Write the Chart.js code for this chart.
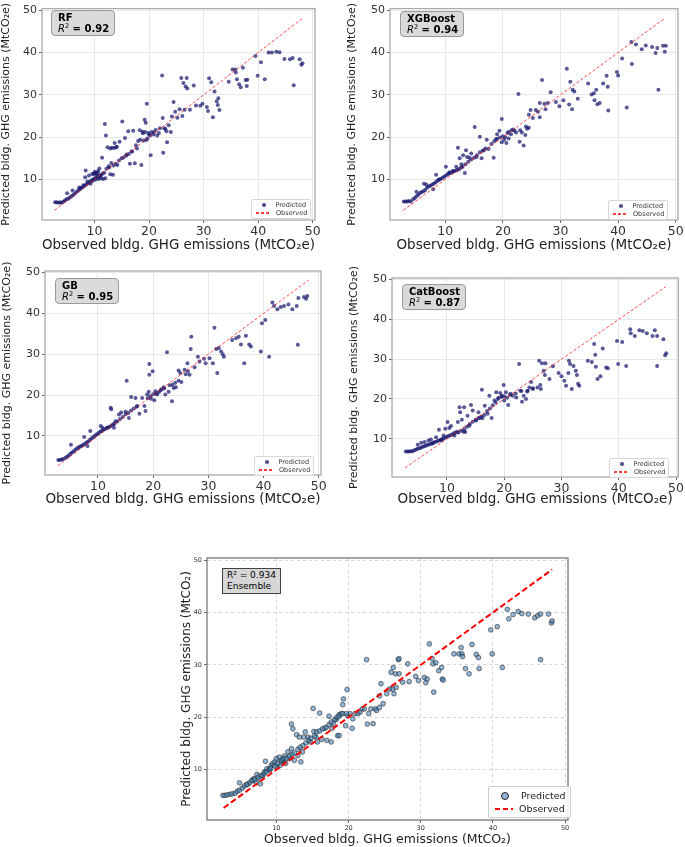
<!DOCTYPE html>
<html>
<head>
<meta charset="utf-8">
<script src="https://cdn.jsdelivr.net/npm/chart.js@4.4.1/dist/chart.umd.min.js"></script>
<style>
  body { margin: 0; background: #fff; width: 685px; height: 847px; position: relative; overflow: hidden; font-family: "DejaVu Sans", sans-serif; }
  canvas { position: absolute; }
  .tag { position: absolute; background: rgba(211,211,211,0.85); border: 1px solid #9a9a9a; border-radius: 4px; font-size: 10px; line-height: 11px; padding: 1px 5px 1px 6px; color: #000; white-space: nowrap; }
  .tag .it { font-style: italic; }
  .tag sup { font-size: 6.5px; line-height: 0; }
  .tag.ens { border-radius: 0; border-color: #444; background: #d6d6d6; font-size: 9px; line-height: 11px; padding: 1px 4px; }
  .leg { position: absolute; border: 1px solid #d8d8d8; border-radius: 2px; background: rgba(255,255,255,0.85); font-size: 6.5px; color: #333; padding: 1px 3px; }
  .leg div { height: 8px; display: flex; align-items: center; white-space: nowrap; }
  .leg .dot { width: 3.5px; height: 3.5px; border-radius: 50%; background: rgba(25,25,112,0.75); margin: 0 10px 0 7px; }
  .leg .dash { width: 14px; height: 1.5px; background: repeating-linear-gradient(90deg, rgba(255,40,40,0.9) 0 3px, transparent 3px 5px); margin: 0 6px 0 1px; }
  .leg.ens { border-color: #ccc; font-size: 9.5px; color: #222; padding: 2px 4px; }
  .leg.ens div { height: 13px; }
  .leg.ens .dot { width: 6px; height: 6px; background: rgba(70,130,180,0.6); border: 0.7px solid #222; margin: 0 12px 0 8px; }
  .leg.ens .dash { width: 18px; height: 2px; background: repeating-linear-gradient(90deg, red 0 5px, transparent 5px 8px); margin: 0 6px 0 2px; }
</style>
</head>
<body>
<canvas id="rf" width="340" height="254" style="left:0;top:0"></canvas>
<canvas id="xgb" width="345" height="254" style="left:340px;top:0"></canvas>
<canvas id="gb" width="340" height="253" style="left:0;top:255px"></canvas>
<canvas id="cat" width="345" height="253" style="left:340px;top:255px"></canvas>
<canvas id="ens" width="400" height="302" style="left:180px;top:545px"></canvas>

<div class="tag" style="left:51px;top:10px"><b>RF</b><br><span class="it">R</span><sup>2</sup><b> = 0.92</b></div>
<div class="tag" style="left:400px;top:11px"><b>XGBoost</b><br><span class="it">R</span><sup>2</sup><b> = 0.94</b></div>
<div class="tag" style="left:55px;top:278px"><b>GB</b><br><span class="it">R</span><sup>2</sup><b> = 0.95</b></div>
<div class="tag" style="left:402px;top:284px"><b>CatBoost</b><br><span class="it">R</span><sup>2</sup><b> = 0.87</b></div>
<div class="tag ens" style="left:222px;top:568px">R² = 0.934<br>Ensemble</div>

<div class="leg" style="left:251px;top:199px"><div><span class="dot"></span>Predicted</div><div><span class="dash"></span>Observed</div></div>
<div class="leg" style="left:608px;top:200px"><div><span class="dot"></span>Predicted</div><div><span class="dash"></span>Observed</div></div>
<div class="leg" style="left:254px;top:456px"><div><span class="dot"></span>Predicted</div><div><span class="dash"></span>Observed</div></div>
<div class="leg" style="left:609px;top:458px"><div><span class="dot"></span>Predicted</div><div><span class="dash"></span>Observed</div></div>
<div class="leg ens" style="left:488px;top:786px"><div><span class="dot"></span>Predicted</div><div><span class="dash"></span>Observed</div></div>

<script>
// observed vs predicted: [observed, predicted]
const rfPoints = [
  [2.8,4.6],[3.1,4.6],[3.4,4.5],[3.7,4.6],[4.0,4.5],[4.3,4.7],
  [4.6,5.0],[4.9,5.3],[5.2,5.4],[5.5,5.7],[5.8,6.0],[6.1,6.3],[6.4,6.6],[6.7,7.0],[7.0,7.3],[7.3,7.6],[7.6,8.0],[7.9,8.2],[8.2,8.5],[8.5,8.8],[8.8,9.1],[9.1,9.4],[9.4,9.7],[9.7,10.0],[10.0,10.2],[10.3,10.4],[10.6,10.5],[10.9,10.8],[11.2,11.0],[11.5,11.4],[11.8,11.6],
  [5.0,6.7],[6.0,7.4],[7.2,8.1],[8.4,12.1],[8.3,10.5],[9.0,10.9],[9.6,11.3],[10.0,11.5],[10.3,11.4],[10.6,11.6],[10.9,12.6],[11.4,15.1],[11.9,23.1],[12.1,20.4],[12.4,17.6],[12.7,12.8],[12.9,11.2],[13.2,17.5],[13.4,11.1],[13.7,18.6],[14.0,17.6],[14.2,13.4],[14.6,18.9],[15.1,23.7],[15.3,15.2],[15.6,19.8],[15.9,15.9],[16.2,21.4],[16.5,13.7],[16.8,16.6],[17.1,21.5],[17.4,13.8],[17.6,18.1],[18.0,19.1],[18.3,21.6],[18.6,13.4],[18.8,21.3],[19.0,19.2],[19.2,24.1],[19.4,23.4],[19.6,27.9],[19.7,19.7],[19.9,21.0],[20.2,20.4],[20.3,15.7],[20.5,21.2],[20.8,20.6],[21.2,21.7],[21.5,20.4],[22.0,22.1],[22.4,34.6],[22.5,24.5],[22.6,16.3],[23.0,21.9],[23.3,18.8],[23.6,22.8],[24.0,21.2],[24.2,24.9],[24.5,28.3],[24.8,26.0],[25.2,24.6],[25.6,26.6],[25.9,34.0],[26.1,25.0],[26.3,32.8],[26.5,26.5],[26.7,32.0],[26.9,34.0],[27.0,31.5],[27.5,26.5],[28.2,32.2],[28.6,27.5],[29.4,27.4],[29.8,27.9],[30.6,27.1],[30.8,26.2],[31.0,33.9],[31.4,33.0],[31.7,24.7],[32.0,30.8],[32.4,28.5],[32.6,27.6],[32.9,26.4],[32.7,29.2],[34.6,33.1],[35.3,36.0],[35.8,36.0],[35.9,35.3],[36.1,33.7],[36.5,32.5],[36.8,31.8],[37.2,36.4],[37.7,33.5],[38.0,33.6],[37.9,32.1],[39.5,39.2],[39.9,34.5],[40.5,37.7],[41.2,33.7],[41.9,40.0],[42.5,40.0],[43.3,40.2],[43.9,40.1],[44.8,38.5],[45.8,38.4],[46.3,38.7],[46.5,32.3],[47.6,38.4],[47.9,37.1],[48.1,37.5],
  [18.4,19.4],[18.9,20.9],[19.3,21.2],[17.8,17.3],[16.9,16.6],[16.3,16.0],[15.8,15.6],[15.0,15.0],[14.5,14.5],[13.9,13.7],[13.5,13.3],[12.6,13.1],[12.2,12.5],[13.1,13.9],[14.1,17.7],[13.6,17.4],[12.9,17.3],[19.5,19.3],[20.0,20.6],[21.8,21.0],[22.8,22.1],[23.2,21.4],[20.9,21.1],[9.9,11.3],[10.1,11.8],[10.4,11.2],[10.7,12.0],[11.2,10.3],[11.6,10.1],[12.0,10.3],[11.1,10.9],[8.7,9.5],[8.0,8.6],[7.5,7.9],[9.3,9.0],[9.6,9.6],[10.2,9.9],[10.8,10.1]
];

const xgbPoints = [
  [2.8,4.8],[3.1,4.8],[3.4,4.8],[3.7,4.9],[4.0,4.8],
  [4.4,5.3],[4.7,5.6],[5.0,6.0],[5.0,7.1],[5.3,6.4],[5.6,6.8],[5.9,7.0],[6.2,7.2],[6.5,7.5],[6.8,8.0],[7.1,8.3],[7.4,8.5],[7.7,8.8],[8.0,9.0],[8.3,9.3],[8.6,9.6],[8.9,9.9],[9.2,10.1],[9.5,10.4],[9.8,10.6],[10.1,10.9],[10.4,11.2],[10.7,11.4],[11.0,11.6],[11.3,11.8],[11.6,12.0],[11.9,12.1],[12.2,12.3],[12.5,12.5],[12.8,12.9],
  [6.3,9.0],[6.7,8.8],[7.9,7.7],[8.4,11.1],[8.9,10.0],[10.1,13.0],[10.7,11.7],[11.3,12.0],[11.9,13.0],[12.2,17.5],[12.5,15.0],[12.8,13.6],[13.1,15.7],[13.4,11.5],[13.6,16.9],[13.8,15.3],[14.2,15.1],[14.5,16.1],[15.1,22.4],[15.4,15.3],[16.0,20.1],[16.3,15.0],[16.7,16.9],[17.2,19.4],[17.5,17.2],[18.0,18.4],[18.4,15.1],[18.8,19.5],[19.0,20.7],[19.4,21.5],[19.8,24.3],[19.8,18.8],[20.2,19.4],[20.6,18.6],[21.0,19.7],[21.4,20.7],[21.8,21.8],[22.3,21.1],[22.7,30.2],[22.9,18.9],[23.3,21.1],[23.6,18.0],[23.9,20.5],[24.2,22.0],[24.5,25.3],[24.8,26.4],[25.2,24.5],[25.7,26.4],[26.1,26.0],[26.4,28.1],[26.4,24.7],[26.8,33.5],[27.2,27.9],[27.4,26.6],[27.8,28.1],[28.3,30.6],[29.2,28.3],[29.8,27.3],[30.5,28.7],[31.1,36.2],[31.5,27.7],[31.7,33.1],[32.0,26.6],[32.1,31.2],[32.4,30.8],[33.0,29.1],[34.8,32.7],[35.4,30.1],[35.8,30.4],[35.9,28.7],[36.2,31.2],[36.4,27.8],[36.8,28.1],[37.4,32.7],[38.0,34.5],[38.2,31.9],[38.3,26.3],[39.8,35.4],[40.0,34.6],[40.7,38.6],[41.5,27.0],[42.3,42.5],[42.4,37.3],[43.1,41.9],[44.1,40.8],[44.8,41.7],[45.9,41.3],[46.5,39.9],[46.8,41.1],[47.0,31.2],[47.8,41.6],[48.1,40.2],[48.3,41.6],
  [18.5,19.0],[19.0,19.6],[19.5,19.9],[20.0,20.2],[20.4,20.0],[17.0,17.3],[16.5,16.8],[16.0,16.4],[15.5,15.7],[15.0,15.1],[14.5,14.7],[14.0,14.2],[13.5,13.6],[13.0,13.0],[21.0,21.2],[21.5,21.6],[22.0,21.5],[23.0,21.6],[24.0,22.5],[24.5,22.2],[20.8,21.0]
];

const gbPoints = [
  [2.8,4.1],[3.1,4.1],[3.4,4.2],[3.7,4.3],
  [4.1,4.6],[4.4,4.9],[4.7,5.2],[5.0,5.6],[5.3,5.9],[5.6,6.2],[5.9,6.6],[6.2,6.9],[6.5,7.2],[6.8,7.4],[7.1,7.6],[7.4,7.8],[7.7,8.1],[8.0,8.4],[8.3,8.7],[8.6,9.1],[8.9,9.4],[9.2,9.8],[9.5,10.1],[9.8,10.4],[10.1,10.7],[10.4,11.0],[10.7,11.2],[11.0,11.5],[11.3,11.7],[11.6,11.9],[11.9,12.1],[12.2,12.3],[12.5,12.6],[12.8,12.8],
  [5.1,7.8],[7.5,9.7],[8.1,7.5],[8.6,11.2],[10.5,12.4],[10.8,12.0],[11.7,12.0],[12.3,16.9],[12.4,16.5],[12.9,12.0],[13.2,13.6],[13.8,15.2],[14.2,15.7],[15.0,15.9],[15.2,23.5],[15.6,14.4],[16.0,19.5],[16.8,19.3],[17.1,17.3],[17.5,15.4],[18.0,19.3],[18.4,17.3],[18.6,16.1],[18.9,20.1],[19.2,20.8],[19.3,27.6],[19.3,25.0],[19.6,19.1],[19.9,25.8],[20.2,18.7],[20.4,20.9],[20.7,20.1],[21.3,21.1],[21.9,21.9],[22.2,20.1],[22.5,30.5],[22.8,20.8],[23.4,18.5],[23.5,22.5],[23.7,21.7],[24.1,21.9],[24.6,23.5],[24.6,26.0],[24.9,25.4],[25.1,23.2],[25.7,26.2],[25.9,25.1],[26.2,27.8],[26.3,25.8],[26.6,25.0],[26.8,31.3],[26.9,34.3],[27.5,26.8],[28.1,29.4],[28.4,28.2],[29.2,28.9],[29.5,27.8],[30.2,29.0],[30.8,27.8],[31.1,36.5],[31.4,31.3],[31.6,25.4],[31.9,31.5],[32.3,30.7],[32.6,30.0],[32.8,29.4],[34.3,33.5],[35.0,33.9],[35.5,34.3],[35.9,32.4],[36.5,27.8],[36.8,34.5],[37.4,32.4],[37.7,31.9],[39.5,30.7],[39.7,37.6],[40.3,38.4],[41.0,29.4],[41.6,42.7],[41.9,41.8],[42.5,41.0],[43.1,41.6],[43.7,41.8],[44.5,42.2],[45.2,41.0],[46.0,41.8],[46.2,32.3],[46.3,43.8],[47.3,44.0],[47.7,43.6],[47.9,44.3],
  [19.0,19.2],[19.5,19.7],[20.0,20.2],[20.5,20.4],[21.0,20.7],[21.5,21.4],[17.0,17.1],[16.5,16.7],[16.0,16.2],[15.5,15.6],[15.0,15.3],[14.5,14.6],[14.0,14.1],[13.5,13.5],[13.0,13.0],[24.0,23.0],[23.0,22.4],[22.0,21.6]
];

const catPoints = [
  [2.8,6.8],[3.1,6.8],[3.4,6.8],[3.7,6.9],[4.0,6.9],
  [4.3,7.1],[4.6,7.3],[4.9,7.5],[5.2,7.6],[5.5,7.8],[5.8,8.0],[6.1,8.2],[6.4,8.3],[6.7,8.5],[7.0,8.6],[7.3,8.8],[7.6,9.0],[7.9,9.2],[8.2,9.3],[8.5,9.5],[8.8,9.7],[9.1,9.9],[9.4,10.1],[9.7,10.3],[10.0,10.5],[10.3,10.7],[10.6,10.9],[10.9,11.1],[11.2,11.4],[11.5,11.6],[11.8,11.8],
  [4.9,8.5],[5.5,9.0],[6.1,9.2],[6.8,9.6],[7.2,9.8],[7.5,8.8],[8.1,10.4],[8.6,12.3],[9.0,9.6],[9.4,10.8],[9.7,12.5],[10.1,14.2],[10.4,12.7],[10.7,13.2],[11.3,10.8],[11.9,14.2],[12.2,17.9],[12.3,16.7],[12.6,14.8],[12.9,11.8],[13.0,17.9],[13.2,11.7],[13.6,15.8],[13.9,13.3],[14.2,18.5],[14.5,17.1],[15.1,14.6],[15.5,16.7],[15.8,15.2],[16.1,22.3],[16.2,15.2],[16.6,18.3],[17.1,16.3],[17.4,20.8],[17.8,15.2],[18.3,19.6],[18.6,21.7],[18.9,20.0],[19.3,21.5],[19.6,20.8],[19.9,23.5],[20.0,19.6],[20.3,21.7],[20.7,18.5],[21.1,21.3],[21.5,20.8],[22.1,20.4],[22.6,28.8],[22.8,22.1],[23.1,19.3],[23.4,20.8],[23.8,20.0],[24.1,22.1],[24.4,22.9],[24.7,24.3],[25.0,22.7],[25.8,22.9],[26.1,29.6],[26.3,23.5],[26.4,22.5],[26.6,29.0],[26.9,27.1],[27.1,26.0],[27.2,29.0],[27.9,25.0],[28.5,28.2],[29.5,26.5],[30.0,25.7],[30.5,24.6],[30.8,23.3],[31.2,26.5],[31.3,29.6],[31.5,28.8],[31.8,22.5],[32.1,28.3],[32.5,27.1],[32.7,26.0],[32.9,23.8],[33.1,23.3],[34.6,29.6],[35.3,29.3],[35.7,33.8],[35.9,31.1],[36.0,28.1],[36.3,25.0],[36.8,25.7],[37.2,32.7],[37.8,27.9],[38.1,27.7],[39.7,34.6],[39.9,28.8],[40.6,34.3],[41.3,28.3],[42.0,37.5],[42.1,36.5],[42.8,35.8],[43.6,37.3],[44.2,37.1],[44.9,36.5],[45.9,35.8],[46.3,37.3],[46.7,35.8],[46.7,28.3],[47.8,35.0],[48.1,31.0],[48.3,31.5],
  [18.0,18.4],[18.5,19.2],[19.0,20.3],[19.5,20.5],[20.0,20.7],[20.5,20.3],[17.5,17.6],[17.0,17.0],[16.5,16.0],[16.0,15.6],[15.5,15.2],[15.0,14.8],[14.5,14.3],[14.0,13.7],[13.5,13.0],[13.0,12.4],[12.5,12.0],[12.0,11.6],[21.0,21.0],[22.0,21.4],[23.0,22.0],[24.0,21.9],[25.0,22.5]
];

const ensPoints = [
  [2.6,5.1],[2.9,5.1],[3.2,5.2],[3.6,5.3],[3.9,5.4],[4.3,5.5],[4.6,5.9],[4.9,7.5],[4.9,6.1],[5.3,6.5],[5.6,6.9],[6.0,7.2],[6.3,7.5],[6.7,8.0],[6.9,8.3],[7.2,7.5],[7.3,9.1],[7.7,8.3],[7.8,7.3],[8.1,8.9],[8.4,9.6],[8.5,11.6],[8.7,10.2],[9.1,9.9],[9.3,10.8],[9.5,11.2],[9.8,11.5],[10.0,12.1],[10.1,10.5],[10.4,12.4],[10.5,10.8],[10.7,11.5],[10.9,11.8],[11.1,12.6],[11.3,11.2],[11.6,13.4],[11.8,12.1],[12.1,14.0],[12.1,18.7],[12.3,17.8],[12.5,11.8],[12.8,16.7],[13.0,12.7],[13.2,16.2],[13.4,11.5],[13.6,13.4],[13.8,16.2],[14.0,17.2],[14.4,16.2],[14.7,15.3],[15.1,21.7],[15.2,17.3],[15.5,16.2],[15.7,15.3],[16.0,20.8],[16.3,15.8],[16.7,17.9],[17.0,15.6],[17.3,20.2],[17.6,15.3],[17.7,17.9],[17.9,18.8],[18.3,19.6],[18.5,16.5],[18.7,20.5],[18.7,16.5],[19.0,20.7],[19.2,22.4],[19.3,23.5],[19.6,18.4],[19.8,25.3],[19.9,20.3],[20.2,20.7],[20.5,17.9],[20.6,19.7],[20.9,20.7],[21.3,20.7],[21.6,21.0],[21.9,21.6],[22.2,21.6],[22.5,31.0],[22.6,18.7],[22.8,20.7],[23.1,21.6],[23.4,18.8],[23.7,21.6],[23.9,21.3],[24.3,21.9],[24.3,24.1],[24.5,26.4],[24.8,22.6],[25.3,24.5],[25.7,25.4],[25.9,28.6],[26.1,25.4],[26.2,29.5],[26.3,24.5],[26.6,25.7],[26.5,28.3],[26.9,31.0],[27.0,31.2],[27.0,28.3],[27.5,26.7],[28.2,30.2],[28.4,26.8],[29.3,27.8],[29.7,27.0],[30.5,27.6],[30.7,26.6],[30.9,27.3],[31.2,34.0],[31.6,31.2],[31.7,30.2],[31.8,24.8],[32.1,30.4],[32.5,28.9],[32.9,29.5],[33.0,27.3],[33.1,27.1],[34.6,32.1],[35.3,32.1],[35.6,33.3],[35.7,32.1],[35.8,31.6],[36.2,29.3],[36.7,28.3],[37.1,33.9],[37.7,32.0],[38.0,31.4],[38.1,29.3],[39.7,36.7],[39.9,32.1],[40.6,37.3],[41.3,29.5],[42.0,40.6],[42.2,38.8],[42.8,39.6],[43.5,40.2],[44.0,39.8],[44.9,39.7],[45.8,39.0],[46.2,39.4],[46.6,39.7],[46.6,31.0],[47.7,39.7],[48.1,38.0],[48.2,38.4],
  [5.9,7.2],[6.6,7.9],[7.0,8.1],[7.5,8.6],[7.9,8.9],[8.3,9.2],[8.6,9.6],[9.0,10.1],[9.2,10.3],[9.8,10.7],[10.2,11.2],[10.7,11.8],[11.0,12.1],[11.4,12.2],[11.8,12.6],[12.2,12.9],[12.5,13.2],[13.0,13.9],[13.3,14.3],[13.7,14.6],[14.1,15.1],[14.5,15.6],[14.8,16.0],[15.3,16.4],[15.6,17.2],[16.0,17.4],[16.4,17.8],[16.9,18.1],[17.3,18.6],[17.6,19.1],[18.1,19.6],[18.4,20.0],[18.7,20.2],[19.2,20.7],[19.7,20.7]
];

const tickValues = [10, 20, 30, 40, 50];
const axisRange = [0.4, 50.4];
const observedRange = [2.7, 48.2];
const xTitleTop = "Observed bldg. GHG emissions (MtCO₂e)";
const yTitleTop = "Predicted bldg. GHG emissions (MtCO₂e)";
const xTitleEns = "Observed bldg. GHG emissions (MtCO₂)";
const yTitleEns = "Predicted bldg. GHG emissions (MtCO₂)";

// full box around the plot area, like the matplotlib spines
const frame = {
  id: 'frame',
  afterDatasetsDraw(chart, args, opts) {
    const a = chart.chartArea, g = chart.ctx;
    g.save();
    g.strokeStyle = opts.color;
    g.lineWidth = opts.width;
    g.strokeRect(a.left, a.top, a.right - a.left, a.bottom - a.top);
    g.restore();
  }
};

function makePanel(id, pts, o) {
  const fixTicks = s => { s.ticks = tickValues.map(v => ({ value: v })); };
  const font = (size) => ({ family: 'DejaVu Sans', size: size });
  return new Chart(document.getElementById(id), {
    type: 'scatter',
    data: {
      datasets: [
        {
          label: 'Predicted',
          data: pts.map(p => ({ x: p[0], y: p[1] })),
          backgroundColor: o.dotFill,
          borderColor: o.dotEdge,
          borderWidth: o.dotEdgeW,
          pointRadius: o.r,
          order: 1
        },
        {
          label: 'Observed',
          type: 'line',
          data: observedRange.map(v => ({ x: v, y: v })),
          borderColor: o.lineColor,
          borderWidth: o.lineW,
          borderDash: o.dash,
          pointRadius: 0,
          fill: false,
          order: 0
        }
      ]
    },
    options: {
      responsive: false,
      animation: false,
      events: [],
      layout: { padding: o.pad },
      plugins: {
        legend: { display: false },
        tooltip: { enabled: false },
        frame: { color: o.frameColor, width: 1.3 }
      },
      scales: {
        x: {
          type: 'linear', min: axisRange[0], max: axisRange[1],
          afterBuildTicks: fixTicks,
          afterFit: s => { s.height = o.xh; },
          ticks: { font: font(o.xTickSize), color: '#333', padding: 1, maxRotation: 0 },
          grid: { color: o.gridColor, tickColor: '#666', tickLength: 3 },
          border: { display: false, dash: o.gridDash },
          title: { display: true, text: o.xTitle, font: font(o.xTitleSize), color: '#222', padding: { top: 2, bottom: 0 } }
        },
        y: {
          type: 'linear', min: axisRange[0], max: axisRange[1],
          afterBuildTicks: fixTicks,
          afterFit: s => { s.width = o.yw; },
          ticks: { font: font(o.yTickSize), color: '#333', padding: 2 },
          grid: { color: o.gridColor, tickColor: '#666', tickLength: 3 },
          border: { display: false, dash: o.gridDash },
          title: { display: true, text: o.yTitle, font: font(o.yTitleSize), color: '#222', padding: { top: 0, bottom: 1 } }
        }
      }
    },
    plugins: [frame]
  });
}

const topStyle = {
  dotFill: 'rgba(25,25,112,0.72)', dotEdge: 'rgba(25,25,112,0.72)', dotEdgeW: 0, r: 2,
  lineColor: 'rgba(255,30,30,0.8)', lineW: 1, dash: [3, 2],
  gridColor: '#e8e8e8', gridDash: [], frameColor: '#aaaaaa',
  xTickSize: 12.5, yTickSize: 11, xTitleSize: 13.5, yTitleSize: 11,
  xTitle: xTitleTop, yTitle: yTitleTop, xh: 34
};

makePanel('rf', rfPoints, Object.assign({}, topStyle, { pad: { left: 0, right: 25, top: 2, bottom: 0 }, yw: 42 }));
makePanel('xgb', xgbPoints, Object.assign({}, topStyle, { pad: { left: 6, right: 7, top: 3, bottom: 0 }, yw: 44 }));
makePanel('gb', gbPoints, Object.assign({}, topStyle, { pad: { left: 1, right: 19, top: 16, bottom: 0 }, yw: 44, xh: 33 }));
makePanel('cat', catPoints, Object.assign({}, topStyle, { pad: { left: 8, right: 5, top: 23, bottom: 0 }, yw: 44, xh: 31 }));

makePanel('ens', ensPoints, {
  dotFill: 'rgba(70,130,180,0.6)', dotEdge: 'rgba(20,20,20,0.85)', dotEdgeW: 0.6, r: 2.4,
  lineColor: 'red', lineW: 2, dash: [6, 3],
  gridColor: '#d4d4d4', gridDash: [3, 3], frameColor: '#777',
  xTickSize: 6.5, yTickSize: 6.5, xTitleSize: 12.5, yTitleSize: 12,
  xTitle: xTitleEns, yTitle: yTitleEns, xh: 27,
  pad: { left: 0, right: 12, top: 13, bottom: 0 }, yw: 27
});
</script>
</body>
</html>
